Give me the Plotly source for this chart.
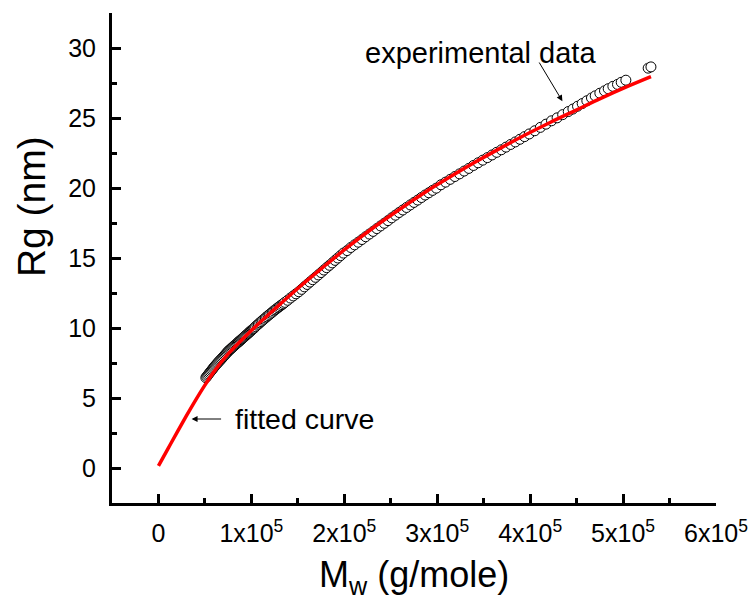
import plotly.graph_objects as go

# Experimental data: molecular weight (in units of 1e3 g/mole) and Rg (nm)
exp_mw_k = [51, 52, 53, 54, 55, 56, 57, 58, 59, 60, 61, 62, 63, 64, 65, 66, 67, 68, 69, 70,
            71, 72, 73, 74, 75, 76, 77, 78, 79, 80, 81, 82, 83, 84, 85, 86, 87, 88, 89, 90,
            91, 92, 93, 94, 95, 96, 97, 98, 99, 100, 101, 102, 103, 104.5, 106, 107.5, 109,
            110.5, 112, 113.5, 115, 116.5, 118, 119.5, 121, 122.5, 124, 125.5, 127, 128.5,
            130, 131.5, 133, 134.5, 136, 139, 142, 145, 148, 151, 154, 157, 160, 163, 166,
            169, 172, 175, 178, 181, 184, 187, 190, 193, 196, 199, 203, 207, 211, 215, 219,
            223, 227, 231, 235, 239, 243, 247, 251, 255, 259, 263, 267, 271, 275, 279, 283,
            287, 291, 295, 299, 304, 309, 314, 319, 324, 329, 334, 339, 344, 349, 354, 359,
            364, 369, 374, 379, 384, 389, 394, 399, 405, 411, 417, 423, 429, 435, 441, 446,
            451, 456, 461, 466, 470, 475, 480, 484, 489, 494, 498, 503, 527, 530]
exp_rg = [6.45, 6.53, 6.62, 6.71, 6.80, 6.88, 6.97, 7.05, 7.14, 7.22, 7.30, 7.37, 7.45, 7.52,
          7.60, 7.67, 7.74, 7.81, 7.89, 7.96, 8.04, 8.11, 8.19, 8.26, 8.34, 8.40, 8.46, 8.52,
          8.58, 8.64, 8.70, 8.76, 8.82, 8.88, 8.94, 9.00, 9.05, 9.11, 9.17, 9.23, 9.29, 9.35,
          9.41, 9.47, 9.53, 9.59, 9.65, 9.71, 9.77, 9.83, 9.89, 9.94, 10.00, 10.10, 10.20,
          10.28, 10.37, 10.46, 10.55, 10.63, 10.72, 10.80, 10.89, 10.97, 11.05, 11.13, 11.22,
          11.30, 11.37, 11.45, 11.52, 11.60, 11.67, 11.75, 11.83, 11.98, 12.14, 12.29, 12.44,
          12.59, 12.76, 12.94, 13.11, 13.28, 13.45, 13.62, 13.79, 13.96, 14.14, 14.31, 14.48,
          14.65, 14.83, 15.00, 15.17, 15.35, 15.53, 15.75, 15.94, 16.13, 16.32, 16.52, 16.71,
          16.90, 17.10, 17.29, 17.48, 17.67, 17.87, 18.06, 18.25, 18.43, 18.61, 18.79, 18.97,
          19.14, 19.32, 19.50, 19.66, 19.83, 19.99, 20.23, 20.42, 20.62, 20.82, 21.01, 21.21,
          21.40, 21.61, 21.80, 21.99, 22.17, 22.36, 22.55, 22.73, 22.92, 23.11, 23.29, 23.48,
          23.67, 23.86, 24.09, 24.33, 24.56, 24.80, 25.01, 25.24, 25.46, 25.64, 25.84, 26.03,
          26.23, 26.43, 26.58, 26.77, 26.94, 27.09, 27.26, 27.40, 27.55, 27.70, 28.56, 28.65]

# Fitted curve
fit_mw_k = [0, 10, 20, 30, 40, 50, 60, 75, 98, 125, 152, 180, 206, 233, 260, 287, 314, 341,
            368, 395, 422, 449, 476, 503, 530]
fit_rg = [0.15, 1.35, 2.55, 3.72, 4.85, 5.92, 6.9, 8.15, 9.7, 11.35, 12.95, 14.5, 15.9, 17.25,
          18.5, 19.7, 20.8, 21.85, 22.85, 23.8, 24.7, 25.55, 26.4, 27.2, 27.95]

x_tickvals = [0, 100000, 200000, 300000, 400000, 500000, 600000]
x_ticktext = ["0", "1x10<sup>5</sup>", "2x10<sup>5</sup>", "3x10<sup>5</sup>",
              "4x10<sup>5</sup>", "5x10<sup>5</sup>", "6x10<sup>5</sup>"]
y_tickvals = [0, 5, 10, 15, 20, 25, 30]

exp_mw = [v * 1000 for v in exp_mw_k]
fit_mw = [v * 1000 for v in fit_mw_k]

FONT = "Arial, Liberation Sans, sans-serif"

fig = go.Figure()
fig.add_trace(go.Scatter(
    x=exp_mw, y=exp_rg, mode="markers",
    marker=dict(symbol="circle", size=10, color="white",
                line=dict(color="black", width=1)),
    showlegend=False))
fig.add_trace(go.Scatter(
    x=fit_mw, y=fit_rg, mode="lines",
    line=dict(color="#ff0000", width=3.5, shape="spline", smoothing=1),
    showlegend=False))

axis_common = dict(
    showgrid=False, zeroline=False, showline=True, linecolor="black", linewidth=3,
    ticks="inside", ticklen=9, tickwidth=3, tickcolor="black",
    tickfont=dict(family=FONT, size=25, color="black"),
    automargin=False,
)

fig.update_xaxes(
    range=[-50000, 600000], tickvals=x_tickvals, ticktext=x_ticktext,
    minor=dict(dtick=50000, tick0=0, ticks="inside", ticklen=5, tickwidth=3,
               tickcolor="black", showgrid=False),
    ticklabelstandoff=6,
    **axis_common)
fig.update_yaxes(
    range=[-2.5, 32.5], tickvals=y_tickvals,
    minor=dict(dtick=2.5, tick0=0, ticks="inside", ticklen=5, tickwidth=3,
               tickcolor="black", showgrid=False),
    ticklabelstandoff=8,
    **axis_common)

annotations = [
    dict(text="experimental data", x=346800, y=29.64, xref="x", yref="y",
         showarrow=False, font=dict(family=FONT, size=29, color="black")),
    dict(text="", x=434700, y=26.2, ax=408800, ay=29.07, xref="x", yref="y",
         axref="x", ayref="y", showarrow=True, arrowhead=2, arrowsize=1.2,
         arrowwidth=1, arrowcolor="black"),
    dict(text="fitted curve", x=157500, y=3.5, xref="x", yref="y",
         showarrow=False, font=dict(family=FONT, size=28.5, color="black")),
    dict(text="", x=35600, y=3.5, ax=69000, ay=3.5, xref="x", yref="y",
         axref="x", ayref="y", showarrow=True, arrowhead=2, arrowsize=1.2,
         arrowwidth=1, arrowcolor="black"),
    dict(text="Rg (nm)", x=-0.134, y=0.604, xref="paper", yref="paper",
         textangle=-90, showarrow=False, xanchor="center", yanchor="middle",
         font=dict(family=FONT, size=39, color="black")),
    dict(text="M<sub>w</sub> (g/mole)", x=0.5, y=-0.152, xref="paper", yref="paper",
         showarrow=False, xanchor="center", yanchor="middle",
         font=dict(family=FONT, size=36, color="black")),
]

fig.update_layout(
    width=753, height=602,
    margin=dict(l=112, r=37, t=13, b=99),
    plot_bgcolor="white", paper_bgcolor="white",
    annotations=annotations,
)

fig.write_html("out.html", config={"displayModeBar": False},
               post_script="document.body.style.margin='0';document.body.style.padding='0';")
